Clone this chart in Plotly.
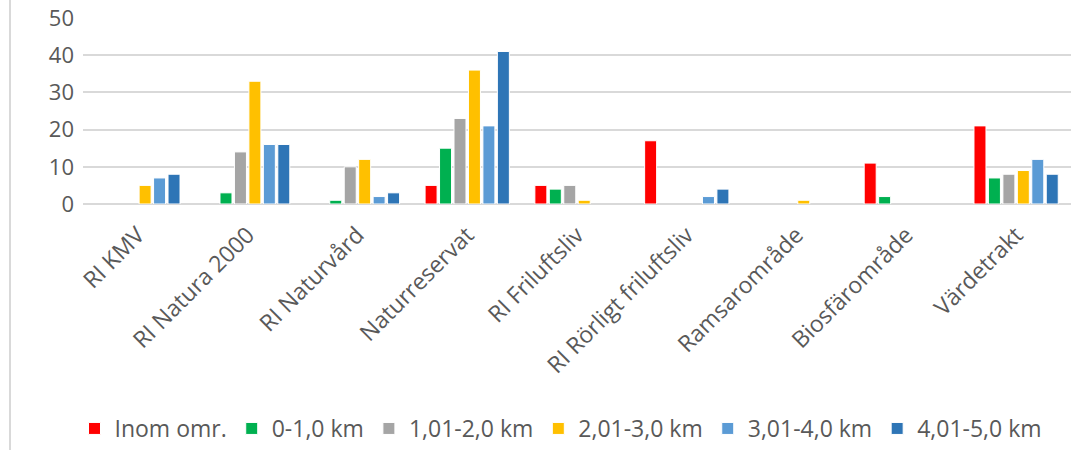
import plotly.graph_objects as go

categories = ["RI KMV", "RI Natura 2000", "RI Naturvård", "Naturreservat", "RI Friluftsliv",
              "RI Rörligt friluftsliv", "Ramsarområde", "Biosfärområde", "Värdetrakt"]

series_names = ["Inom omr.", "0-1,0 km", "1,01-2,0 km", "2,01-3,0 km", "3,01-4,0 km", "4,01-5,0 km"]

inom = [0, 0, 0, 5, 5, 17, 0, 11, 21]
km_0_1 = [0, 3, 1, 15, 4, 0, 0, 2, 7]
km_1_2 = [0, 14, 10, 23, 5, 0, 0, 0, 8]
km_2_3 = [5, 33, 12, 36, 1, 0, 1, 0, 9]
km_3_4 = [7, 16, 2, 21, 0, 2, 0, 0, 12]
km_4_5 = [8, 16, 3, 41, 0, 4, 0, 0, 8]

colors = ["#FF0000", "#00B050", "#A5A5A5", "#FFC000", "#5B9BD5", "#2E75B6"]

y_ticks = [0, 10, 20, 30, 40, 50]

FONT = "Open Sans, Liberation Sans, sans-serif"
TXT = "#595959"
GRID = "#D9D9D9"

fig = go.Figure()
for name, vals, col in zip(series_names, [inom, km_0_1, km_1_2, km_2_3, km_3_4, km_4_5], colors):
    fig.add_trace(go.Bar(
        x=categories,
        y=[v if v != 0 else None for v in vals],
        name=name,
        marker=dict(color=col, line=dict(color="white", width=1)),
    ))

W, H = 1076, 450
L, R, T, B = 83, 5, 18, 246
ph = H - T - B
pw = W - L - R

fig.update_layout(
    width=W, height=H,
    margin=dict(l=L, r=R, t=T, b=B, autoexpand=False),
    plot_bgcolor="white", paper_bgcolor="white",
    barmode="group", bargap=0.21, bargroupgap=0.17,
    font=dict(family=FONT, size=23, color=TXT),
    xaxis=dict(
        tickangle=-45, showgrid=False, zeroline=False, showline=False,
        ticks="", automargin=False, ticklabelstandoff=12,
        tickfont=dict(family=FONT, size=23, color=TXT),
    ),
    yaxis=dict(
        range=[0, 50], tickvals=y_ticks, showgrid=True, gridcolor=GRID, gridwidth=2,
        zeroline=True, zerolinecolor=GRID, zerolinewidth=2,
        showline=False, ticks="", automargin=False, ticklabelstandoff=8,
        tickfont=dict(family=FONT, size=22, color=TXT),
    ),
    legend=dict(
        orientation="h", x=(561 - L) / pw, xanchor="center",
        yref="container", y=0, yanchor="bottom",
        font=dict(family=FONT, size=23, color=TXT),
        itemwidth=30, tracegroupgap=0,
    ),
    shapes=[dict(
        type="line", xref="paper", yref="paper",
        x0=(10 - L) / pw, x1=(10 - L) / pw,
        y0=(T + ph - H) / ph, y1=(T + ph) / ph,
        line=dict(color=GRID, width=2),
    )],
)

fig.write_html("out.html", config={"displayModeBar": False},
               post_script="document.body.style.margin='0px';document.body.style.overflow='hidden';")
